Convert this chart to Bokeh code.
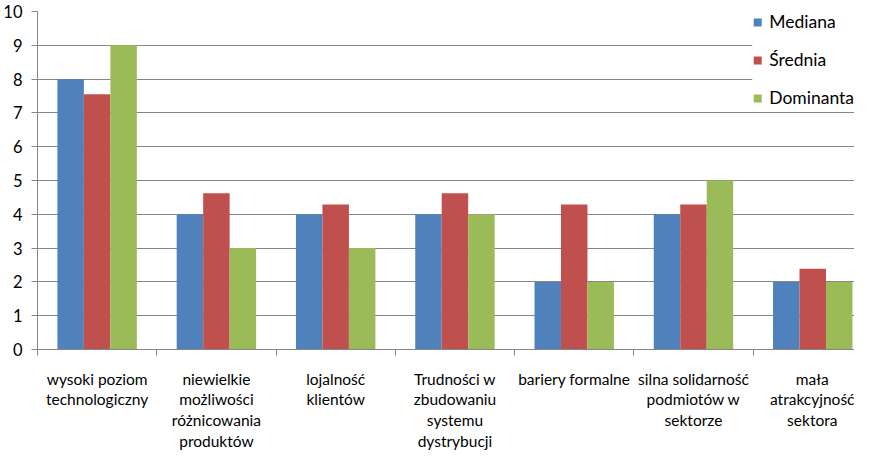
import numpy as np
from bokeh.plotting import figure
from bokeh.models import ColumnDataSource, FixedTicker, Range1d, Legend, LegendItem
from bokeh.transform import dodge
from bokeh.embed import file_html
from bokeh.resources import INLINE

categories = [
    "wysoki poziom\ntechnologiczny",
    "niewielkie\nmożliwości\nróżnicowania\nproduktów",
    "lojalność\nklientów",
    "Trudności w\nzbudowaniu\nsystemu\ndystrybucji",
    "bariery formalne",
    "silna solidarność\npodmiotów w\nsektorze",
    "mała\natrakcyjność\nsektora",
]
series_names = ["Mediana", "Średnia", "Dominanta"]
mediana = [8, 4, 4, 4, 2, 4, 2]
srednia = [7.55, 4.62, 4.29, 4.62, 4.29, 4.29, 2.39]
dominanta = [9, 3, 3, 4, 2, 5, 2]
y_ticks = list(range(0, 11))

colors = ["#4F81BD", "#C0504D", "#9BBB59"]
FONT = "Lato"
GRID = "#868686"

n = len(categories)
centers = list(np.arange(n) + 0.5)
source = ColumnDataSource(dict(x=centers, m=mediana, s=srednia, d=dominanta))

p = figure(width=854, height=452, output_backend="svg", toolbar_location=None,
           x_range=Range1d(0, 6.85), y_range=Range1d(0, 10),
           min_border_left=33, min_border_right=0, min_border_top=11, min_border_bottom=0)
p.outline_line_color = None
p.background_fill_color = "white"
p.border_fill_color = "white"

bw = 0.222
r1 = p.vbar(x=dodge("x", -bw, range=p.x_range), top="m", width=bw, source=source,
            fill_color=colors[0], line_color=None)
r2 = p.vbar(x=dodge("x", 0, range=p.x_range), top="s", width=bw, source=source,
            fill_color=colors[1], line_color=None)
r3 = p.vbar(x=dodge("x", bw, range=p.x_range), top="d", width=bw, source=source,
            fill_color=colors[2], line_color=None)

# x axis
p.xaxis.ticker = FixedTicker(ticks=centers, minor_ticks=list(range(0, n + 1)))
p.xaxis.major_label_overrides = {float(c): lab for c, lab in zip(centers, categories)}
p.xaxis.major_tick_line_color = None
p.xaxis.major_tick_out = 0
p.xaxis.major_tick_in = 0
p.xaxis.minor_tick_line_color = GRID
p.xaxis.minor_tick_out = 6
p.xaxis.minor_tick_in = 0
p.xaxis.axis_line_color = GRID
p.xaxis.major_label_text_font = FONT
p.xaxis.major_label_text_font_size = "15.5px"
p.xaxis.major_label_text_color = "black"
p.xaxis.major_label_text_line_height = 1.15
p.xaxis.major_label_standoff = 14
p.xgrid.grid_line_color = None

# y axis
p.yaxis.ticker = FixedTicker(ticks=y_ticks, minor_ticks=[])
p.yaxis.axis_line_color = GRID
p.yaxis.major_tick_line_color = GRID
p.yaxis.major_tick_out = 6
p.yaxis.major_tick_in = 0
p.yaxis.minor_tick_line_color = None
p.yaxis.major_label_text_font = FONT
p.yaxis.major_label_text_font_size = "16.5px"
p.yaxis.major_label_text_color = "black"
p.yaxis.major_label_standoff = 9
p.ygrid.grid_line_color = GRID
p.ygrid.grid_line_width = 1

legend = Legend(items=[LegendItem(label=series_names[0], renderers=[r1]),
                       LegendItem(label=series_names[1], renderers=[r2]),
                       LegendItem(label=series_names[2], renderers=[r3])],
                location="top_right")
legend.border_line_color = None
legend.background_fill_color = "white"
legend.background_fill_alpha = 1.0
legend.padding = 2
legend.margin = 0
legend.spacing = 17
legend.label_height = 20
legend.glyph_height = 10
legend.glyph_width = 10
legend.label_standoff = 7
legend.label_text_font = FONT
legend.label_text_font_size = "17.5px"
legend.label_text_color = "black"
p.add_layout(legend, "center")

open("out.html", "w").write(file_html(p, INLINE))
